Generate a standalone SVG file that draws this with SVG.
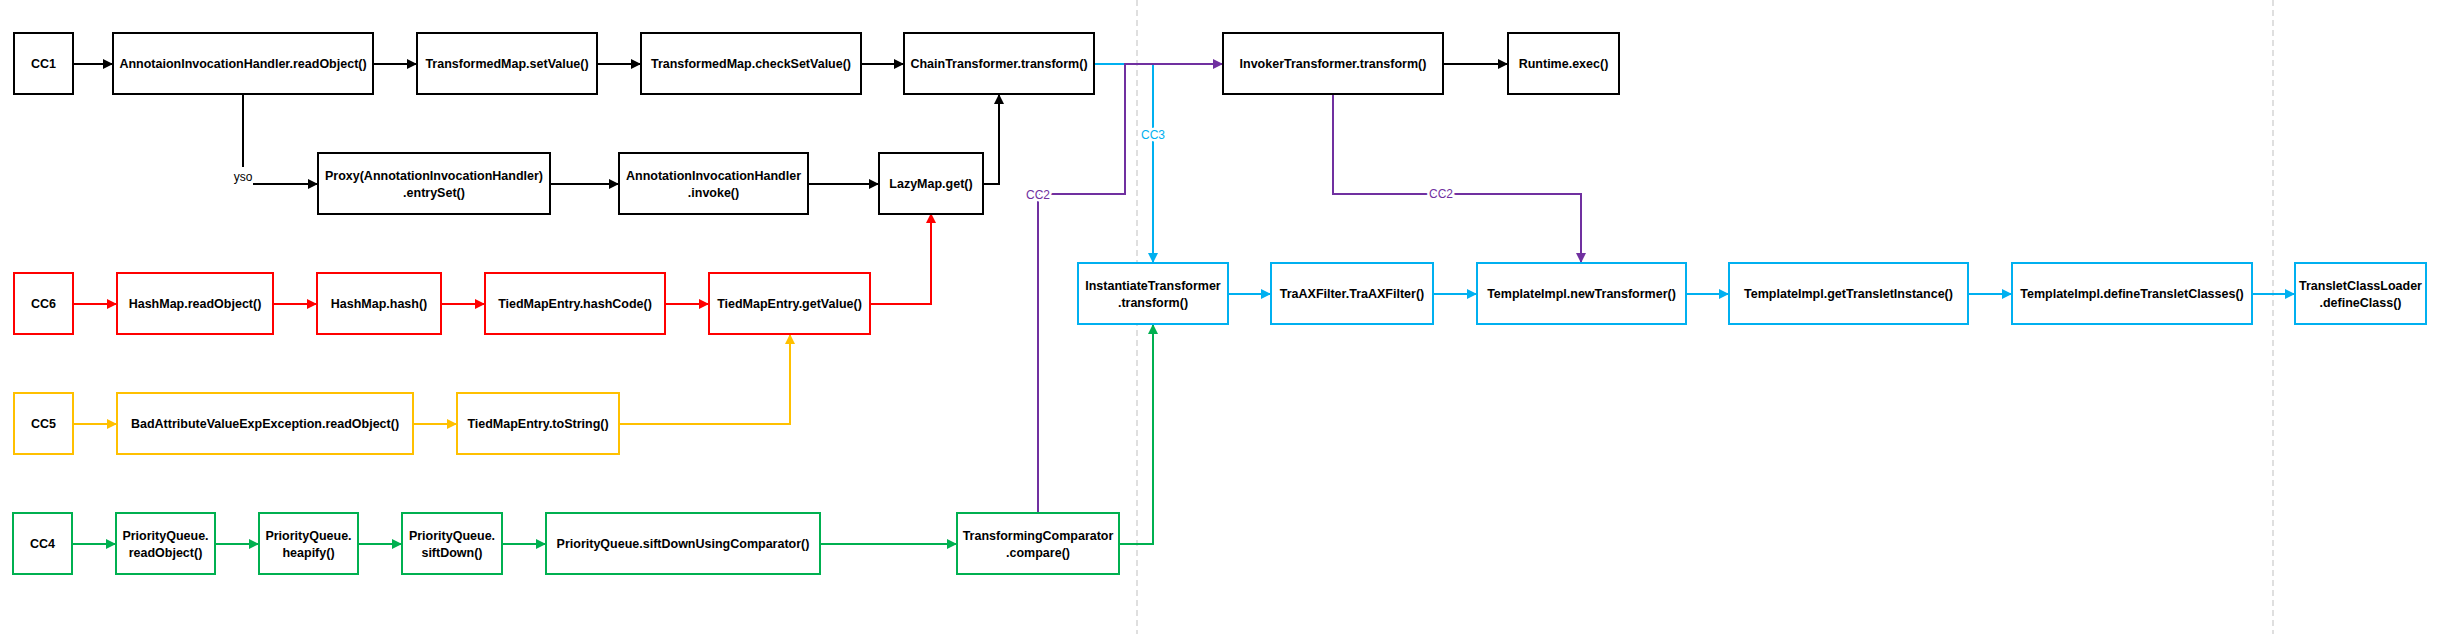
<svg xmlns="http://www.w3.org/2000/svg" width="2438" height="634" viewBox="0 0 2438 634">
<style>
.n rect{fill:#fff;stroke-width:2}
.k rect{stroke:#000}.r rect{stroke:#FF0000}.y rect{stroke:#FFC000}.g rect{stroke:#00B050}.b rect{stroke:#00B0F0}
.n text{font-family:"Liberation Sans",Arial,sans-serif;font-weight:bold;font-size:12.5px;fill:#000;text-anchor:middle}
.c{fill:none;stroke-width:2}
.ck{stroke:#000}.cr{stroke:#FF0000}.cy{stroke:#FFC000}.cg{stroke:#00B050}.cb{stroke:#00B0F0}.cp{stroke:#7030A0}
.lbl{font-family:"Liberation Sans",Arial,sans-serif;font-size:12px;text-anchor:middle;stroke:#fff;stroke-width:5;paint-order:stroke}
.sep{stroke:#BFBFBF;stroke-width:1;stroke-dasharray:6 4}
</style>
<defs>
<marker id="ak" viewBox="0 0 10 10" refX="10" refY="5" markerWidth="10" markerHeight="10" markerUnits="userSpaceOnUse" orient="auto"><path d="M0,0L10,5L0,10z" fill="#000"/></marker>
<marker id="ar" viewBox="0 0 10 10" refX="10" refY="5" markerWidth="10" markerHeight="10" markerUnits="userSpaceOnUse" orient="auto"><path d="M0,0L10,5L0,10z" fill="#FF0000"/></marker>
<marker id="ay" viewBox="0 0 10 10" refX="10" refY="5" markerWidth="10" markerHeight="10" markerUnits="userSpaceOnUse" orient="auto"><path d="M0,0L10,5L0,10z" fill="#FFC000"/></marker>
<marker id="ag" viewBox="0 0 10 10" refX="10" refY="5" markerWidth="10" markerHeight="10" markerUnits="userSpaceOnUse" orient="auto"><path d="M0,0L10,5L0,10z" fill="#00B050"/></marker>
<marker id="ab" viewBox="0 0 10 10" refX="10" refY="5" markerWidth="10" markerHeight="10" markerUnits="userSpaceOnUse" orient="auto"><path d="M0,0L10,5L0,10z" fill="#00B0F0"/></marker>
<marker id="ap" viewBox="0 0 10 10" refX="10" refY="5" markerWidth="10" markerHeight="10" markerUnits="userSpaceOnUse" orient="auto"><path d="M0,0L10,5L0,10z" fill="#7030A0"/></marker>
</defs>
<rect width="2438" height="634" fill="#fff"/>
<g id="separators">
<line class="sep" x1="1137" y1="0" x2="1137" y2="634"/>
<line class="sep" x1="2273" y1="0" x2="2273" y2="634"/>
</g>
<g id="connectors">
<!-- CC1 black -->
<path class="c ck" d="M73,64H113" marker-end="url(#ak)"/>
<path class="c ck" d="M373,64H417" marker-end="url(#ak)"/>
<path class="c ck" d="M597,64H641" marker-end="url(#ak)"/>
<path class="c ck" d="M861,64H904" marker-end="url(#ak)"/>
<path class="c ck" d="M1443,64H1508" marker-end="url(#ak)"/>
<path class="c ck" d="M243,94V167"/>
<path class="c ck" d="M253,184H318" marker-end="url(#ak)"/>
<text x="243" y="181" class="lbl" style="fill:#000">yso</text>
<path class="c ck" d="M550,184H619" marker-end="url(#ak)"/>
<path class="c ck" d="M808,184H879" marker-end="url(#ak)"/>
<path class="c ck" d="M983,184H999V94" marker-end="url(#ak)"/>
<!-- CC6 red -->
<path class="c cr" d="M73,304H117" marker-end="url(#ar)"/>
<path class="c cr" d="M273,304H317" marker-end="url(#ar)"/>
<path class="c cr" d="M441,304H485" marker-end="url(#ar)"/>
<path class="c cr" d="M665,304H709" marker-end="url(#ar)"/>
<path class="c cr" d="M870,304H931V213" marker-end="url(#ar)"/>
<!-- CC5 yellow -->
<path class="c cy" d="M73,424H117" marker-end="url(#ay)"/>
<path class="c cy" d="M413,424H457" marker-end="url(#ay)"/>
<path class="c cy" d="M619,424H790V334" marker-end="url(#ay)"/>
<!-- CC4 green -->
<path class="c cg" d="M72,544H116" marker-end="url(#ag)"/>
<path class="c cg" d="M215,544H259" marker-end="url(#ag)"/>
<path class="c cg" d="M358,544H402" marker-end="url(#ag)"/>
<path class="c cg" d="M502,544H546" marker-end="url(#ag)"/>
<path class="c cg" d="M820,544H957" marker-end="url(#ag)"/>
<path class="c cg" d="M1119,544H1153V324" marker-end="url(#ag)"/>
<!-- CC3 blue -->
<path class="c cb" d="M1094,64H1153V263" marker-end="url(#ab)"/>
<text x="1153" y="139" class="lbl" style="fill:#00B0F0">CC3</text>
<path class="c cb" d="M1228,294H1271" marker-end="url(#ab)"/>
<path class="c cb" d="M1433,294H1477" marker-end="url(#ab)"/>
<path class="c cb" d="M1686,294H1729" marker-end="url(#ab)"/>
<path class="c cb" d="M1968,294H2012" marker-end="url(#ab)"/>
<path class="c cb" d="M2252,294H2295" marker-end="url(#ab)"/>
<!-- CC2 purple -->
<path class="c cp" d="M1038,513V194H1125V64H1223" marker-end="url(#ap)"/>
<text x="1038" y="199" class="lbl" style="fill:#7030A0">CC2</text>
<path class="c cp" d="M1333,94V194H1581V263" marker-end="url(#ap)"/>
<text x="1441" y="198" class="lbl" style="fill:#7030A0">CC2</text>
</g>
<!-- CC1 row -->
<g id="cc1" class="n k"><rect x="14" y="33" width="59" height="61"/><text x="43.5" y="68">CC1</text></g>
<g id="aih-readobject" class="n k"><rect x="113" y="33" width="260" height="61"/><text x="243" y="68">AnnotaionInvocationHandler.readObject()</text></g>
<g id="tm-setvalue" class="n k"><rect x="417" y="33" width="180" height="61"/><text x="507" y="68">TransformedMap.setValue()</text></g>
<g id="tm-checksetvalue" class="n k"><rect x="641" y="33" width="220" height="61"/><text x="751" y="68">TransformedMap.checkSetValue()</text></g>
<g id="chaintransformer" class="n k"><rect x="904" y="33" width="190" height="61"/><text x="999" y="68">ChainTransformer.transform()</text></g>
<g id="invokertransformer" class="n k"><rect x="1223" y="33" width="220" height="61"/><text x="1333" y="68">InvokerTransformer.transform()</text></g>
<g id="runtime-exec" class="n k"><rect x="1508" y="33" width="111" height="61"/><text x="1563.5" y="68">Runtime.exec()</text></g>
<g id="proxy-entryset" class="n k"><rect x="318" y="153" width="232" height="61"/><text x="434" y="180">Proxy(AnnotationInvocationHandler)</text><text x="434" y="196.5">.entrySet()</text></g>
<g id="aih-invoke" class="n k"><rect x="619" y="153" width="189" height="61"/><text x="713.5" y="180">AnnotationInvocationHandler</text><text x="713.5" y="196.5">.invoke()</text></g>
<g id="lazymap-get" class="n k"><rect x="879" y="153" width="104" height="61"/><text x="931" y="188">LazyMap.get()</text></g>
<!-- CC6 row -->
<g id="cc6" class="n r"><rect x="14" y="273" width="59" height="61"/><text x="43.5" y="308">CC6</text></g>
<g id="hashmap-readobject" class="n r"><rect x="117" y="273" width="156" height="61"/><text x="195" y="308">HashMap.readObject()</text></g>
<g id="hashmap-hash" class="n r"><rect x="317" y="273" width="124" height="61"/><text x="379" y="308">HashMap.hash()</text></g>
<g id="tme-hashcode" class="n r"><rect x="485" y="273" width="180" height="61"/><text x="575" y="308">TiedMapEntry.hashCode()</text></g>
<g id="tme-getvalue" class="n r"><rect x="709" y="273" width="161" height="61"/><text x="789.5" y="308">TiedMapEntry.getValue()</text></g>
<!-- CC5 row -->
<g id="cc5" class="n y"><rect x="14" y="393" width="59" height="61"/><text x="43.5" y="428">CC5</text></g>
<g id="badattr-readobject" class="n y"><rect x="117" y="393" width="296" height="61"/><text x="265" y="428">BadAttributeValueExpException.readObject()</text></g>
<g id="tme-tostring" class="n y"><rect x="457" y="393" width="162" height="61"/><text x="538" y="428">TiedMapEntry.toString()</text></g>
<!-- CC4 row -->
<g id="cc4" class="n g"><rect x="13" y="513" width="59" height="61"/><text x="42.5" y="548">CC4</text></g>
<g id="pq-readobject" class="n g"><rect x="116" y="513" width="99" height="61"/><text x="165.5" y="540">PriorityQueue.</text><text x="165.5" y="556.5">readObject()</text></g>
<g id="pq-heapify" class="n g"><rect x="259" y="513" width="99" height="61"/><text x="308.5" y="540">PriorityQueue.</text><text x="308.5" y="556.5">heapify()</text></g>
<g id="pq-siftdown" class="n g"><rect x="402" y="513" width="100" height="61"/><text x="452" y="540">PriorityQueue.</text><text x="452" y="556.5">siftDown()</text></g>
<g id="pq-siftdownusingcomparator" class="n g"><rect x="546" y="513" width="274" height="61"/><text x="683" y="548">PriorityQueue.siftDownUsingComparator()</text></g>
<g id="transformingcomparator" class="n g"><rect x="957" y="513" width="162" height="61"/><text x="1038" y="540">TransformingComparator</text><text x="1038" y="556.5">.compare()</text></g>
<!-- blue row -->
<g id="instantiatetransformer" class="n b"><rect x="1078" y="263" width="150" height="61"/><text x="1153" y="290">InstantiateTransformer</text><text x="1153" y="306.5">.transform()</text></g>
<g id="traxfilter" class="n b"><rect x="1271" y="263" width="162" height="61"/><text x="1352" y="298">TraAXFilter.TraAXFilter()</text></g>
<g id="templateimpl-newtransformer" class="n b"><rect x="1477" y="263" width="209" height="61"/><text x="1581.5" y="298">TemplateImpl.newTransformer()</text></g>
<g id="templateimpl-gettransletinstance" class="n b"><rect x="1729" y="263" width="239" height="61"/><text x="1848.5" y="298">TemplateImpl.getTransletInstance()</text></g>
<g id="templateimpl-definetransletclasses" class="n b"><rect x="2012" y="263" width="240" height="61"/><text x="2132" y="298">TemplateImpl.defineTransletClasses()</text></g>
<g id="transletclassloader" class="n b"><rect x="2295" y="263" width="131" height="61"/><text x="2360.5" y="290">TransletClassLoader</text><text x="2360.5" y="306.5">.defineClass()</text></g>
</svg>
